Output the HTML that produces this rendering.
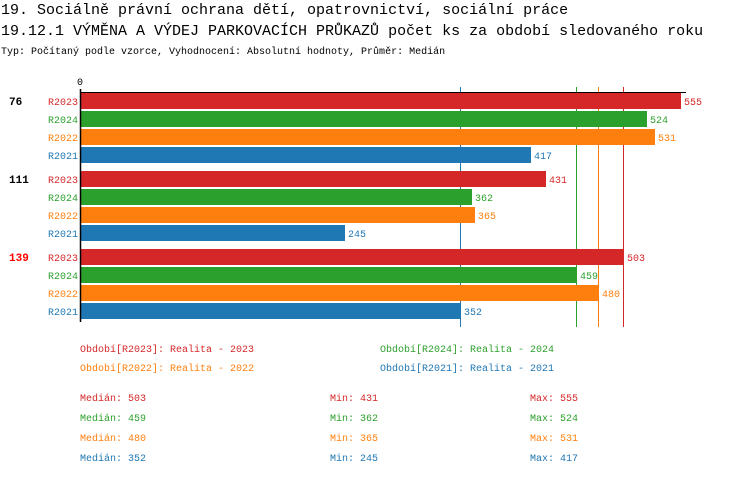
<!DOCTYPE html>
<html><head><meta charset="utf-8"><style>
body{margin:0;background:#fff;}
svg text{font-family:"Liberation Mono","DejaVu Sans Mono",monospace;}
</style></head><body>
<svg width="750" height="476" xmlns="http://www.w3.org/2000/svg">
<rect width="750" height="476" fill="#fff"/>
<text x="1" y="14" font-size="15">19. Sociálně právní ochrana dětí, opatrovnictví, sociální práce</text>
<text x="1" y="35" font-size="15">19.12.1 VÝMĚNA A VÝDEJ PARKOVACÍCH PRŮKAZŮ počet ks za období sledovaného roku</text>
<text x="1" y="54" font-size="10">Typ: Počítaný podle vzorce, Vyhodnocení: Absolutní hodnoty, Průměr: Medián</text>
<text x="77" y="85" font-size="10">0</text>
<g font-size="10">
<line x1="460.5" y1="87" x2="460.5" y2="327" stroke="#1f77b4"/>
<line x1="576.5" y1="87" x2="576.5" y2="327" stroke="#2ca02c"/>
<line x1="598.5" y1="87" x2="598.5" y2="327" stroke="#ff7f0e"/>
<line x1="623.5" y1="87" x2="623.5" y2="327" stroke="#d62728"/>
<line x1="80" y1="92.5" x2="686" y2="92.5" stroke="#000"/>
<!-- group 1 -->
<rect x="80" y="93" width="601" height="16" fill="#d62728"/>
<rect x="80" y="111" width="567" height="16" fill="#2ca02c"/>
<rect x="80" y="129" width="575" height="16" fill="#ff7f0e"/>
<rect x="80" y="147" width="451" height="16" fill="#1f77b4"/>
<!-- group 2 -->
<rect x="80" y="171" width="466" height="16" fill="#d62728"/>
<rect x="80" y="189" width="392" height="16" fill="#2ca02c"/>
<rect x="80" y="207" width="395" height="16" fill="#ff7f0e"/>
<rect x="80" y="225" width="265" height="16" fill="#1f77b4"/>
<!-- group 3 -->
<rect x="80" y="249" width="544" height="16" fill="#d62728"/>
<rect x="80" y="267" width="497" height="16" fill="#2ca02c"/>
<rect x="80" y="285" width="519" height="16" fill="#ff7f0e"/>
<rect x="80" y="303" width="381" height="16" fill="#1f77b4"/>
<line x1="80.5" y1="89" x2="80.5" y2="322" stroke="#000" stroke-width="1.5"/>
<g text-anchor="end">
<text x="78" y="105" fill="#d62728">R2023</text><text x="78" y="123" fill="#2ca02c">R2024</text><text x="78" y="141" fill="#ff7f0e">R2022</text><text x="78" y="159" fill="#1f77b4">R2021</text>
<text x="78" y="183" fill="#d62728">R2023</text><text x="78" y="201" fill="#2ca02c">R2024</text><text x="78" y="219" fill="#ff7f0e">R2022</text><text x="78" y="237" fill="#1f77b4">R2021</text>
<text x="78" y="261" fill="#d62728">R2023</text><text x="78" y="279" fill="#2ca02c">R2024</text><text x="78" y="297" fill="#ff7f0e">R2022</text><text x="78" y="315" fill="#1f77b4">R2021</text>
</g>
<text x="9" y="105" font-weight="bold" font-size="11">76</text>
<text x="9" y="183" font-weight="bold" font-size="11">111</text>
<text x="9" y="261" font-weight="bold" font-size="11" fill="#ff0000">139</text>
<text x="684" y="105" fill="#d62728">555</text><text x="650" y="123" fill="#2ca02c">524</text><text x="658" y="141" fill="#ff7f0e">531</text><text x="534" y="159" fill="#1f77b4">417</text>
<text x="549" y="183" fill="#d62728">431</text><text x="475" y="201" fill="#2ca02c">362</text><text x="478" y="219" fill="#ff7f0e">365</text><text x="348" y="237" fill="#1f77b4">245</text>
<text x="627" y="261" fill="#d62728">503</text><text x="580" y="279" fill="#2ca02c">459</text><text x="602" y="297" fill="#ff7f0e">480</text><text x="464" y="315" fill="#1f77b4">352</text>
<text x="80" y="352" fill="#d62728">Období[R2023]: Realita - 2023</text>
<text x="380" y="352" fill="#2ca02c">Období[R2024]: Realita - 2024</text>
<text x="80" y="371" fill="#ff7f0e">Období[R2022]: Realita - 2022</text>
<text x="380" y="371" fill="#1f77b4">Období[R2021]: Realita - 2021</text>
<text x="80" y="401" fill="#d62728">Medián: 503</text><text x="330" y="401" fill="#d62728">Min: 431</text><text x="530" y="401" fill="#d62728">Max: 555</text>
<text x="80" y="421" fill="#2ca02c">Medián: 459</text><text x="330" y="421" fill="#2ca02c">Min: 362</text><text x="530" y="421" fill="#2ca02c">Max: 524</text>
<text x="80" y="441" fill="#ff7f0e">Medián: 480</text><text x="330" y="441" fill="#ff7f0e">Min: 365</text><text x="530" y="441" fill="#ff7f0e">Max: 531</text>
<text x="80" y="461" fill="#1f77b4">Medián: 352</text><text x="330" y="461" fill="#1f77b4">Min: 245</text><text x="530" y="461" fill="#1f77b4">Max: 417</text>
</g>
</svg>
</body></html>
